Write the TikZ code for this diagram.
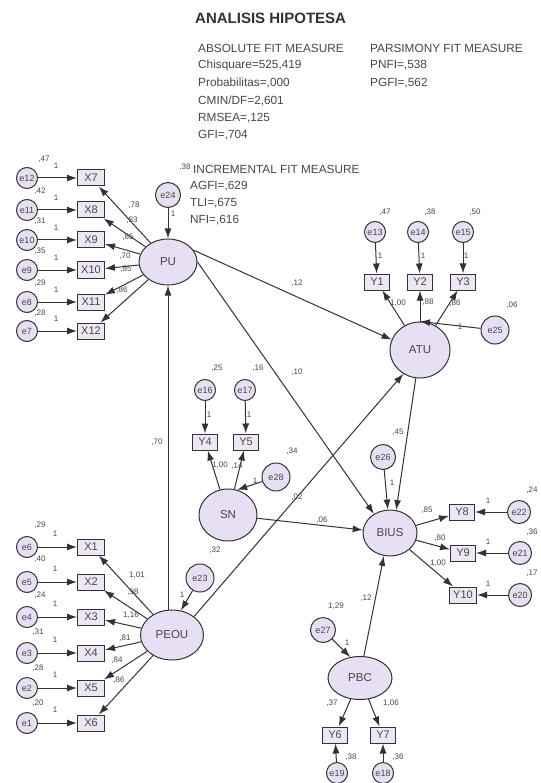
\documentclass[tikz,border=0pt]{standalone}
\usepackage{fontspec}
\setmainfont{Liberation Sans}
\usetikzlibrary{shapes.geometric,arrows.meta}
\definecolor{lav}{HTML}{E7DFF3}
\definecolor{boxlav}{HTML}{EDE7F5}
\definecolor{ink}{HTML}{333333}
\definecolor{txt}{HTML}{474747}
\tikzset{
  obs/.style={draw=ink, line width=1pt, fill=boxlav, minimum width=27pt, minimum height=16pt,
    inner sep=0pt, font=\fontsize{11}{11}\selectfont, text=txt},
  obsy/.style={obs, minimum width=25pt},
  err/.style={circle, draw=ink, line width=1pt, fill=lav, minimum size=21pt, inner sep=0pt,
    font=\fontsize{9}{9}\selectfont, text=txt},
  res/.style={err, minimum size=28pt},
  ress/.style={err, minimum size=25pt},
  lat/.style={ellipse, draw=ink, line width=1pt, fill=lav, inner sep=0pt,
    font=\fontsize{11.5}{11.5}\selectfont, text=txt},
  path/.style={draw=ink, line width=1pt, -{Latex[length=10pt,width=7pt]}},
  num/.style={font=\fontsize{8}{8}\selectfont, text=txt, inner sep=0pt},
  fitline/.style={font=\fontsize{11.8}{11.8}\selectfont, text=txt, anchor=west, inner sep=0pt},
}
\begin{document}
\begin{tikzpicture}[x=1pt,y=-1pt]
\useasboundingbox (0,0) rectangle (540,783);
\fill[white] (0,0) rectangle (540,783);

% ---------- fit indices ----------
\node[anchor=west, inner sep=0pt, text=ink, font=\bfseries\fontsize{15}{15}\selectfont] (title) at (195,18) {ANALISIS HIPOTESA};
\node[fitline] (absH) at (198,48) {ABSOLUTE FIT MEASURE};
\node[fitline] (abs1) at (198,65.5) {Chisquare=525,419};
\node[fitline] (abs2) at (198,83) {Probabilitas=,000};
\node[fitline] (abs3) at (198,100.5) {CMIN/DF=2,601};
\node[fitline] (abs4) at (198,118) {RMSEA=,125};
\node[fitline] (abs5) at (198,135.5) {GFI=,704};
\node[fitline] (parH) at (370,48) {PARSIMONY FIT MEASURE};
\node[fitline] (par1) at (370,65.5) {PNFI=,538};
\node[fitline] (par2) at (370,83) {PGFI=,562};
\node[fitline] (incH) at (193,169) {INCREMENTAL FIT MEASURE};
\node[fitline] (inc1) at (190,186) {AGFI=,629};
\node[fitline] (inc2) at (190,203) {TLI=,675};
\node[fitline] (inc3) at (190,220) {NFI=,616};

% ---------- PU and its indicators ----------
\node[lat, minimum width=58pt, minimum height=46pt] (PU) at (168,262) {PU};
\node[ress] (e24) at (168,195) {e24};
\foreach \x/\e/\y in {X7/e12/178, X8/e11/210, X9/e10/240, X10/e9/270, X11/e8/302, X12/e7/331} {
  \node[obs] (\x) at (91,\y) {\x};
  \node[err] (\e) at (27,\y) {\e};
  \draw[path] (\e) -- (\x);
  \draw[path] (PU) -- (\x);
  \node[num] (one\x) at (56,\y-12) {1};
}

% ---------- PEOU and its indicators ----------
\node[lat, minimum width=63pt, minimum height=50pt] (PEOU) at (172,635) {PEOU};
\node[res] (e23) at (200,578) {e23};
\foreach \x/\e/\y in {X1/e6/547, X2/e5/582, X3/e4/617, X4/e3/653, X5/e2/688, X6/e1/723} {
  \node[obs] (\x) at (91,\y) {\x};
  \node[err] (\e) at (27,\y) {\e};
  \draw[path] (\e) -- (\x);
  \draw[path] (PEOU) -- (\x);
  \node[num] (one\x) at (55,\y-13) {1};
}

% ---------- SN ----------
\node[lat, minimum width=58pt, minimum height=52pt] (SN) at (228,515) {SN};
\node[err] (e16) at (205,390) {e16};
\node[err] (e17) at (245,390) {e17};
\node[obsy] (Y4) at (205,442) {Y4};
\node[obsy] (Y5) at (246,442) {Y5};
\node[res] (e28) at (276,477) {e28};

% ---------- ATU ----------
\node[lat, minimum width=60pt, minimum height=56pt] (ATU) at (420,350) {ATU};
\node[err] (e13) at (375,232) {e13};
\node[err] (e14) at (418,232) {e14};
\node[err] (e15) at (463,232) {e15};
\node[obsy] (Y1) at (377,282) {Y1};
\node[obsy] (Y2) at (420,282) {Y2};
\node[obsy] (Y3) at (463,282) {Y3};
\node[res] (e25) at (495,330) {e25};

% ---------- BIUS ----------
\node[lat, minimum width=54pt, minimum height=46pt] (BIUS) at (390,533) {BIUS};
\node[ress] (e26) at (383,457) {e26};
\node[obsy] (Y8) at (462,512) {Y8};
\node[obsy] (Y9) at (463,553) {Y9};
\node[obsy, minimum width=27pt] (Y10) at (463,595) {Y10};
\node[err, minimum size=23pt] (e22) at (519,512) {e22};
\node[err, minimum size=23pt] (e21) at (520,553) {e21};
\node[err, minimum size=23pt] (e20) at (520,595) {e20};

% ---------- PBC ----------
\node[lat, minimum width=64pt, minimum height=43pt] (PBC) at (360,678) {PBC};
\node[ress] (e27) at (323,630) {e27};
\node[obsy] (Y6) at (335,735) {Y6};
\node[obsy] (Y7) at (383,735) {Y7};
\node[err] (e19) at (337,773) {e19};
\node[err] (e18) at (383,773) {e18};

% ---------- structural paths ----------
\draw[path] (e24) -- (PU);
\draw[path] (PEOU.north -| PU.south) -- (PU.south);
\draw[path] (PU.25) -- (ATU.160);
\draw[path] (PU.east) -- (BIUS.130);
\draw[path] (PEOU.40) -- (ATU.235);
\draw[path] (SN) -- (BIUS);
\draw[path] (ATU) -- (BIUS.75);
\draw[path] (e26) -- (BIUS);
\draw[path] (PBC.80) -- (BIUS.255);
\draw[path] (e25) -- (ATU.north);
\draw[path] (e28) -- (SN.70);
\draw[path] (e23) -- (PEOU.70);
\draw[path] (e27) -- (PBC.115);

% ---------- measurement paths ----------
\foreach \y/\e in {Y1/e13, Y2/e14, Y3/e15} {
  \draw[path] (ATU) -- (\y);
  \draw[path] (\e) -- (\y);
}
\foreach \y/\e in {Y4/e16, Y5/e17} {
  \draw[path] (SN) -- (\y);
  \draw[path] (\e) -- (\y);
}
\foreach \y/\e in {Y8/e22, Y9/e21, Y10/e20} {
  \draw[path] (BIUS) -- (\y);
  \draw[path] (\e) -- (\y);
}
\foreach \y/\e in {Y6/e19, Y7/e18} {
  \draw[path] (PBC) -- (\y);
  \draw[path] (\e) -- (\y);
}

% ---------- estimates ----------
% variances, upper indicators
\node[num] (v12) at (44,159) {,47};
\node[num] (v11) at (40,191) {,42};
\node[num] (v10) at (40,221) {,31};
\node[num] (v9) at (40,251) {,35};
\node[num] (v8) at (40,283) {,29};
\node[num] (v7) at (40,313) {,28};
% loadings PU
\node[num] (l7) at (134,205) {,78};
\node[num] (l8) at (132,220) {,83};
\node[num] (l9) at (128,237) {,85};
\node[num] (l10) at (125,256) {,70};
\node[num] (l11) at (126,269) {,85};
\node[num] (l12) at (122,290) {,86};
\node[num] (v24) at (185,167) {,38};
\node[num] (o24) at (173,214) {1};
% variances, lower indicators
\node[num] (v6) at (40,525) {,29};
\node[num] (v5) at (40,559) {,40};
\node[num] (v4) at (40,595) {,24};
\node[num] (v3) at (38,632) {,31};
\node[num] (v2) at (38,668) {,28};
\node[num] (v1) at (38,703) {,20};
% loadings PEOU
\node[num] (l1) at (137,575) {1,01};
\node[num] (l2) at (133,592) {,98};
\node[num] (l3) at (131,615) {1,16};
\node[num] (l4) at (125,638) {,81};
\node[num] (l5) at (117,660) {,84};
\node[num] (l6) at (119,680) {,86};
\node[num] (v23) at (215,550) {,32};
\node[num] (o23) at (182,595) {1};
\node[num] (b70) at (157,442) {,70};
% ATU block
\node[num] (v13) at (385,212) {,47};
\node[num] (v14) at (430,212) {,38};
\node[num] (v15) at (475,212) {,50};
\node[num] (o13) at (380,256) {1};
\node[num] (o14) at (423,256) {1};
\node[num] (o15) at (466,256) {1};
\node[num] (a1) at (398,303) {1,00};
\node[num] (a2) at (428,302) {,88};
\node[num] (a3) at (455,303) {,86};
\node[num] (v25) at (512,305) {,06};
\node[num] (o25) at (460,327) {1};
\node[num] (b12) at (297,283) {,12};
\node[num] (b10) at (297,372) {,10};
% SN block
\node[num] (v16) at (217,368) {,25};
\node[num] (v17) at (258,368) {,16};
\node[num] (o16) at (209,415) {1};
\node[num] (o17) at (249,415) {1};
\node[num] (s4) at (220,465) {1,00};
\node[num] (s5) at (237,466) {,14};
\node[num] (v28) at (292,451) {,34};
\node[num] (o28) at (255,481) {1};
\node[num] (c28) at (297,497) {,02};
\node[num] (b06) at (322,520) {,06};
% BIUS block
\node[num] (v26) at (398,432) {,45};
\node[num] (o26) at (392,483) {1};
\node[num] (d8) at (427,510) {,85};
\node[num] (d9) at (440,538) {,80};
\node[num] (d10) at (438,563) {1,00};
\node[num] (v22) at (532,490) {,24};
\node[num] (v21) at (532,532) {,36};
\node[num] (v20) at (532,573) {,17};
\node[num] (o22) at (488,501) {1};
\node[num] (o21) at (488,542) {1};
\node[num] (o20) at (488,584) {1};
% PBC block
\node[num] (b12p) at (366,598) {,12};
\node[num] (v27) at (336,606) {1,29};
\node[num] (o27) at (347,643) {1};
\node[num] (p6) at (332,703) {,37};
\node[num] (p7) at (391,703) {1,06};
\node[num] (v19) at (351,757) {,38};
\node[num] (v18) at (398,757) {,36};
\end{tikzpicture}
\end{document}
